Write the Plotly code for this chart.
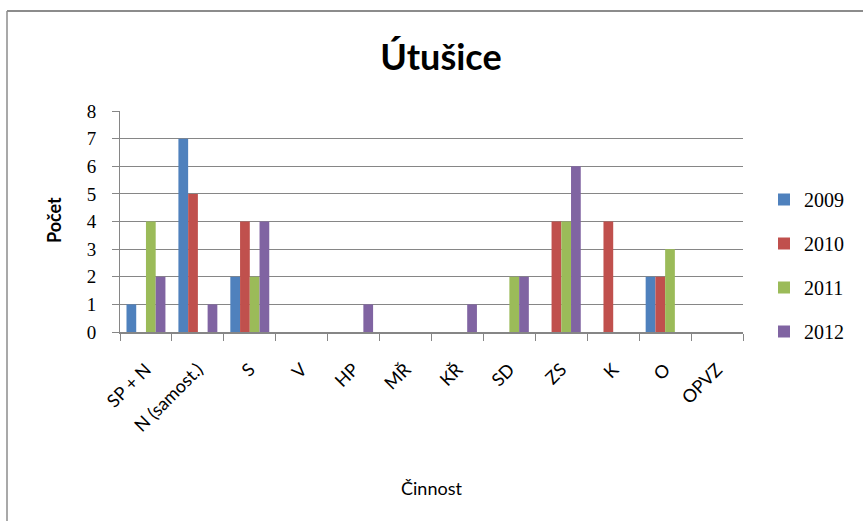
import plotly.graph_objects as go

# Activity categories and counts per year
categories = ["SP + N", "N (samost.)", "S", "V", "HP", "MŘ", "KŘ", "SD", "ZS", "K", "O", "OPVZ"]
years = ["2009", "2010", "2011", "2012"]
counts_2009 = [1, 7, 2, 0, 0, 0, 0, 0, 0, 0, 2, 0]
counts_2010 = [0, 5, 4, 0, 0, 0, 0, 0, 4, 4, 2, 0]
counts_2011 = [4, 0, 2, 0, 0, 0, 0, 2, 4, 0, 3, 0]
counts_2012 = [2, 1, 4, 0, 1, 0, 1, 2, 6, 0, 0, 0]
series = [counts_2009, counts_2010, counts_2011, counts_2012]
colors = ["#4F81BD", "#C0504D", "#9BBB59", "#8064A2"]
y_ticks = [0, 1, 2, 3, 4, 5, 6, 7, 8]

fig = go.Figure()
for name, vals, col in zip(years, series, colors):
    fig.add_trace(go.Bar(
        x=categories, y=vals, name=name, marker_color=col,
        marker_line_width=0, legendgroup=name,
    ))

W, H = 863, 521
L, R, T, B = 120, 120, 111, 189
pw = W - L - R
ph = H - T - B


def px_x(p):
    return (p - L) / pw


def px_y(p):
    return (H - B - p) / ph


grid = "#868686"
sans = "Lato, 'Open Sans', sans-serif"
serif = "'Liberation Serif', 'DejaVu Serif', serif"

fig.update_layout(
    width=W, height=H,
    margin=dict(l=L, r=R, t=T, b=B),
    paper_bgcolor="white", plot_bgcolor="white",
    barmode="group", bargap=0.25, bargroupgap=0,
    title=dict(text="Útušice", x=px_x(441), xanchor="center", xref="paper",
               y=1 - 57 / H, yanchor="middle",
               font=dict(family=sans, size=36, color="black", weight="bold")),
    legend=dict(x=px_x(764), xanchor="left", y=px_y(180), yanchor="top",
                font=dict(family=serif, size=20, color="black"),
                tracegroupgap=15, itemwidth=30, bgcolor="rgba(0,0,0,0)"),
    xaxis=dict(
        showgrid=False, showline=True, linecolor=grid, linewidth=2,
        ticks="outside", ticklen=7, tickcolor=grid, tickwidth=1,
        tickmode="array", tickvals=categories,
        tickson="boundaries", tickangle=-45,
        tickfont=dict(family=sans, size=18, color="black"),
        ticklabelstandoff=18,
    ),
    yaxis=dict(
        range=[0, 8], tickvals=y_ticks, showgrid=True, gridcolor=grid, gridwidth=1,
        showline=True, linecolor=grid, linewidth=1,
        ticks="outside", ticklen=7, tickcolor=grid,
        tickfont=dict(family=serif, size=19, color="black"),
        ticklabelstandoff=12,
        zeroline=False,
    ),
    annotations=[
        dict(text="<b>Počet</b>", x=px_x(54), y=px_y(220), xref="paper", yref="paper",
             xanchor="center", yanchor="middle",
             textangle=-90, showarrow=False, font=dict(family=sans, size=18, color="black")),
        dict(text="Činnost", x=px_x(431), y=px_y(488), xref="paper", yref="paper",
             xanchor="center", yanchor="middle",
             showarrow=False, font=dict(family=sans, size=18, color="black")),
    ],
    shapes=[
        # chart frame (top and left edges)
        dict(type="line", xref="paper", yref="paper", x0=px_x(7), x1=px_x(W + 5),
             y0=px_y(11), y1=px_y(11), line=dict(color="#8c8c8c", width=2)),
        dict(type="line", xref="paper", yref="paper", x0=px_x(7), x1=px_x(7),
             y0=px_y(11), y1=px_y(H + 5), line=dict(color="#8c8c8c", width=1.5)),
    ],
)

fig.write_html("out.html")
